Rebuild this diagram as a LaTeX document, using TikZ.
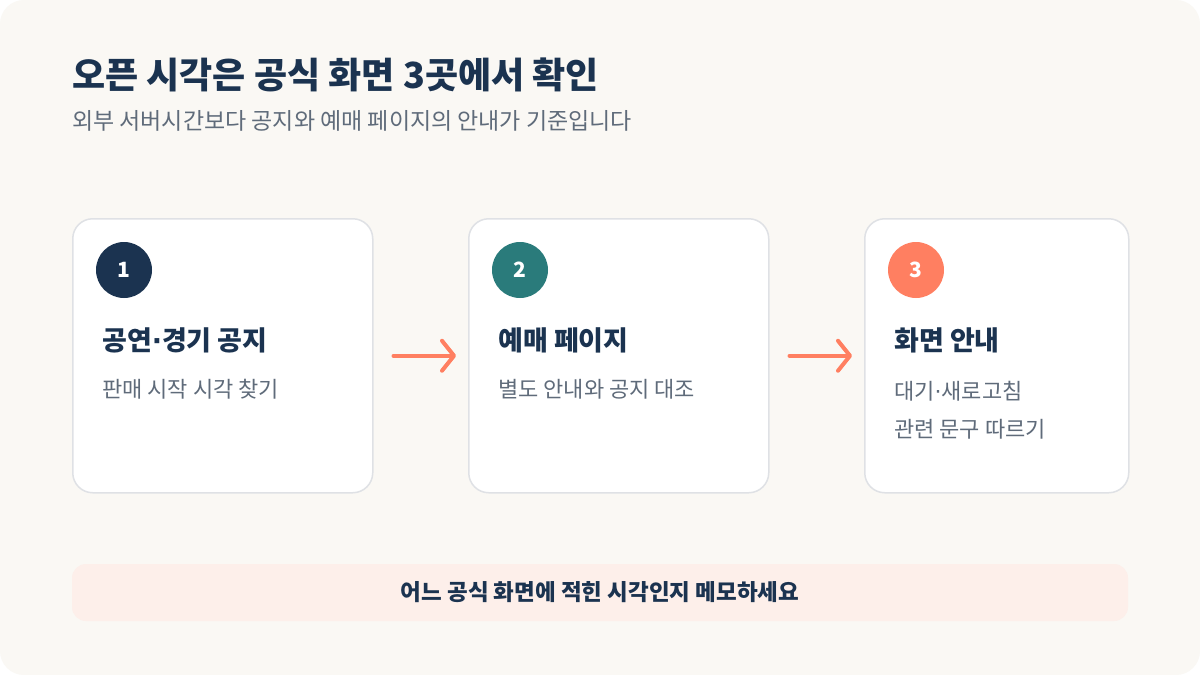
\documentclass[tikz,border=0pt]{standalone}
\usepackage{fontspec}
\setmainfont{Noto Sans CJK KR}
\newfontfamily\dotfont{DejaVu Sans}
\usetikzlibrary{arrows.meta}
\definecolor{navy}{HTML}{1B3350}
\definecolor{teal2}{HTML}{2A7B7B}
\definecolor{coral}{HTML}{FF7F61}
\definecolor{cream}{HTML}{FAF8F4}
\definecolor{edge}{HTML}{DFE1E5}
\definecolor{subgray}{HTML}{5F6B7A}
\definecolor{pinkbar}{HTML}{FDEFEA}
\newcommand{\mdot}{{\dotfont ·}}
\tikzset{
  card/.style={draw=edge,line width=1.5pt,fill=white,rounded corners=20pt,anchor=north west,minimum height=274pt,inner sep=0pt},
  badge/.style={circle,minimum size=56pt,inner sep=0pt,text=white,font=\fontsize{21}{24}\selectfont\bfseries},
  cardhead/.style={anchor=west,text=navy,font=\fontsize{27}{30}\selectfont\bfseries,inner sep=0pt},
  cardtext/.style={anchor=west,text=subgray,font=\fontsize{22}{38}\selectfont,align=left,inner sep=0pt},
  flow/.style={coral,line width=4pt,line cap=round,-{Straight Barb[length=12pt,width=30pt,line cap=round,line join=round]}}
}
\begin{document}
\begin{tikzpicture}[x=1pt,y=-1pt]
\useasboundingbox (0,0) rectangle (1200,675);
\fill[white] (0,0) rectangle (1200,675);
\fill[cream,rounded corners=24pt] (0,0) rectangle (1200,675);
% header
\node[anchor=west,inner sep=0pt,text=navy,font=\fontsize{36}{40}\selectfont\bfseries] (title) at (72,75) {오픈 시각은 공식 화면 3곳에서 확인};
\node[anchor=west,inner sep=0pt,text=subgray,font=\fontsize{23}{26}\selectfont] (subtitle) at (72,121) {외부 서버시간보다 공지와 예매 페이지의 안내가 기준입니다};
% cards
\node[card,minimum width=300pt] (c1) at (72,218) {};
\node[card,minimum width=300pt] (c2) at (468,218) {};
\node[card,minimum width=264pt] (c3) at (864,218) {};
\node[badge,fill=navy] (b1) at (124,270) {1};
\node[badge,fill=teal2] (b2) at (520,270) {2};
\node[badge,fill=coral] (b3) at (916,270) {3};
\node[cardhead] (h1) at (102,340) {공연\mdot 경기 공지};
\node[cardhead] (h2) at (498,340) {예매 페이지};
\node[cardhead] (h3) at (894,340) {화면 안내};
\node[cardtext] (t1) at (102,389) {판매 시작 시각 찾기};
\node[cardtext] (t2) at (498,389) {별도 안내와 공지 대조};
\node[cardtext,anchor=north west] (t3) at (894,381) {대기\mdot 새로고침\\관련 문구 따르기};
% arrows
\draw[flow,shorten <=20pt,shorten >=12pt] (c1.east) -- (c2.west);
\draw[flow,shorten <=20pt,shorten >=12pt] (c2.east) -- (c3.west);
% bottom note
\node[fill=pinkbar,rounded corners=14pt,minimum width=1056pt,minimum height=57pt,inner sep=0pt,text=navy,font=\fontsize{22.5}{26}\selectfont\bfseries] (note) at (600,592.5) {어느 공식 화면에 적힌 시각인지 메모하세요};
\end{tikzpicture}
\end{document}
